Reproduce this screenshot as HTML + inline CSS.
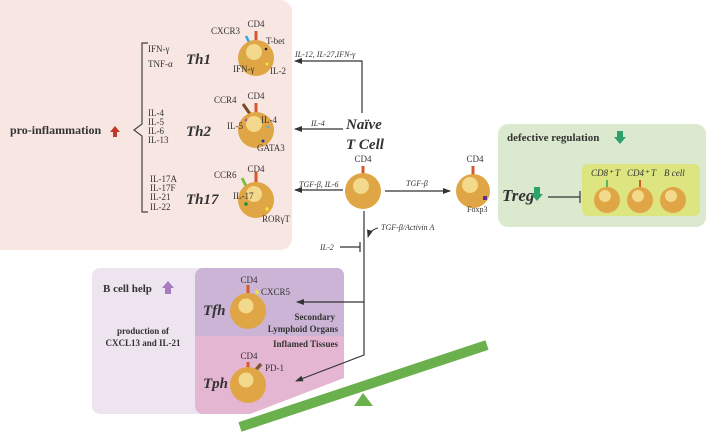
<!DOCTYPE html>
<html><head><meta charset="utf-8"><style>
html,body{margin:0;padding:0;background:#fff}
svg{display:block}
text{font-family:"Liberation Serif",serif;fill:#333}
.b{font-weight:bold}
.i{font-style:italic}
</style></head><body>
<svg width="708" height="432" viewBox="0 0 708 432" xmlns="http://www.w3.org/2000/svg">
<defs>
<marker id="ar" markerWidth="8" markerHeight="6" refX="7" refY="3" orient="auto" markerUnits="userSpaceOnUse"><path d="M0,0 L8,3 L0,6 z" fill="#333"/></marker>
</defs>
<!-- panels -->
<rect x="-10" y="0" width="302" height="250" rx="12" fill="#f7e6e2"/>
<rect x="498" y="124" width="208" height="103" rx="10" fill="#dbe9cf"/>
<rect x="582" y="164" width="118" height="52" rx="6" fill="#dde580"/>
<rect x="92" y="268" width="120" height="146" rx="8" fill="#ede4ef"/>
<path d="M203,268 H337 a7,7 0 0 1 7,7 V336 H195 V276 a8,8 0 0 1 8,-8z" fill="#cbb4d5"/>
<path d="M195,336 H344 V378 L250,414 H203 a8,8 0 0 1 -8,-8z" fill="#e4b6d2"/>
<!-- seesaw -->
<line x1="240" y1="427" x2="487" y2="345" stroke="#6ab04c" stroke-width="10"/>
<polygon points="363,393 354,406 373,406" fill="#6ab04c"/>

<!-- left text -->
<text x="10" y="134" class="b" font-size="12">pro-inflammation</text>
<polygon points="115,126 110,132 113,132 113,137 117,137 117,132 120,132" fill="#c0392b"/>
<path d="M148,43 H142 V124 L134,130 L142,136 V212 H148" fill="none" stroke="#444" stroke-width="1.2"/>
<text x="148" y="52" font-size="9">IFN-γ</text>
<text x="148" y="67" font-size="9">TNF-α</text>
<text x="148" y="116" font-size="9">IL-4</text>
<text x="148" y="125" font-size="9">IL-5</text>
<text x="148" y="134" font-size="9">IL-6</text>
<text x="148" y="143" font-size="9">IL-13</text>
<text x="150" y="182" font-size="9">IL-17A</text>
<text x="150" y="191" font-size="9">IL-17F</text>
<text x="150" y="200" font-size="9">IL-21</text>
<text x="150" y="210" font-size="9">IL-22</text>
<text x="186" y="64" class="b i" font-size="15">Th1</text>
<text x="186" y="136" class="b i" font-size="15">Th2</text>
<text x="186" y="204" class="b i" font-size="15">Th17</text>

<!-- Th1 -->
<line x1="256" y1="31" x2="256" y2="40" stroke="#d35a2a" stroke-width="3"/>
<line x1="246" y1="36" x2="249" y2="42" stroke="#2ea8e0" stroke-width="2.5"/>
<circle cx="256" cy="58" r="18" fill="#e0a545"/><circle cx="254" cy="52" r="8" fill="#f3d98b"/>
<circle cx="266" cy="49" r="1.3" fill="#222"/><circle cx="267" cy="64" r="1.5" fill="#f4e430"/><circle cx="243" cy="58" r="1.3" fill="#9bcf3a"/>
<text x="256" y="27" font-size="9" text-anchor="middle">CD4</text>
<text x="211" y="34" font-size="9">CXCR3</text>
<text x="266" y="44" font-size="9">T-bet</text>
<text x="233" y="72" font-size="9">IFN-γ</text>
<text x="270" y="74" font-size="9">IL-2</text>
<!-- Th2 -->
<line x1="256" y1="103" x2="256" y2="113" stroke="#d35a2a" stroke-width="3"/>
<line x1="243" y1="104" x2="250" y2="114" stroke="#7a4a23" stroke-width="3"/>
<circle cx="256" cy="130" r="18" fill="#e0a545"/><circle cx="254" cy="124" r="8" fill="#f3d98b"/>
<circle cx="246" cy="120" r="1.3" fill="#b04dc0"/><circle cx="268" cy="127" r="1.3" fill="#5ab0e0"/><circle cx="263" cy="141" r="1.5" fill="#223c8c"/>
<text x="256" y="99" font-size="9" text-anchor="middle">CD4</text>
<text x="214" y="103" font-size="9">CCR4</text>
<text x="227" y="129" font-size="9">IL-5</text>
<text x="261" y="123" font-size="9">IL-4</text>
<text x="257" y="151" font-size="9">GATA3</text>
<!-- Th17 -->
<line x1="256" y1="172" x2="256" y2="183" stroke="#d35a2a" stroke-width="3"/>
<line x1="242" y1="178" x2="246" y2="186" stroke="#7bc043" stroke-width="3"/>
<circle cx="256" cy="200" r="18" fill="#e0a545"/><circle cx="254" cy="194" r="8" fill="#f3d98b"/>
<circle cx="246" cy="204" r="1.7" fill="#1e8a3c"/><circle cx="267" cy="209" r="1.7" fill="#f4e430"/>
<text x="256" y="172" font-size="9" text-anchor="middle">CD4</text>
<text x="214" y="178" font-size="9">CCR6</text>
<text x="233" y="199" font-size="9">IL-17</text>
<text x="262" y="222" font-size="9">RORγT</text>

<!-- arrows to Th -->
<path d="M362,113 V61 H295" fill="none" stroke="#333" stroke-width="1.2" marker-end="url(#ar)"/>
<text x="295" y="57" class="i" font-size="8">IL-12, IL-27,IFN-γ</text>
<line x1="343" y1="129" x2="295" y2="129" stroke="#333" stroke-width="1.2" marker-end="url(#ar)"/>
<text x="311" y="126" class="i" font-size="8">IL-4</text>
<line x1="343" y1="190" x2="295" y2="190" stroke="#333" stroke-width="1.2" marker-end="url(#ar)"/>
<text x="299" y="187" class="i" font-size="8">TGF-β, IL-6</text>

<!-- naive -->
<text x="346" y="129" class="b i" font-size="15">Naïve</text>
<text x="346" y="149" class="b i" font-size="15">T Cell</text>
<line x1="363" y1="166" x2="363" y2="176" stroke="#d35a2a" stroke-width="3"/>
<circle cx="363" cy="191" r="18" fill="#e0a545"/><circle cx="361" cy="186" r="8" fill="#f3d98b"/>
<text x="363" y="162" font-size="9" text-anchor="middle">CD4</text>
<line x1="385" y1="191" x2="450" y2="191" stroke="#333" stroke-width="1.2" marker-end="url(#ar)"/>
<text x="406" y="186" class="i" font-size="8">TGF-β</text>

<!-- Treg cell -->
<line x1="473" y1="166" x2="473" y2="176" stroke="#d35a2a" stroke-width="3"/>
<circle cx="473" cy="191" r="17" fill="#e0a545"/><circle cx="470" cy="185" r="8" fill="#f3d98b"/>
<rect x="483" y="196" width="4" height="4" fill="#6a2a8a"/>
<text x="475" y="162" font-size="9" text-anchor="middle">CD4</text>
<text x="467" y="212" font-size="8">Foxp3</text>

<!-- green panel -->
<text x="507" y="141" class="b" font-size="11">defective regulation</text>
<polygon points="620,144 614,137 617,137 617,131 623,131 623,137 626,137" fill="#2ea06b"/>
<text x="502" y="201" class="b i" font-size="17">Treg</text>
<polygon points="537,201 531,194 534,194 534,187 540,187 540,194 543,194" fill="#2ea06b"/>
<line x1="548" y1="197" x2="580" y2="197" stroke="#333" stroke-width="1.2"/>
<line x1="580" y1="191" x2="580" y2="203" stroke="#333" stroke-width="1.2"/>
<text x="591" y="176" class="i" font-size="9">CD8⁺ T</text>
<text x="627" y="176" class="i" font-size="9">CD4⁺ T</text>
<text x="664" y="176" class="i" font-size="9">B cell</text>
<line x1="607" y1="180" x2="607" y2="187" stroke="#5ab55a" stroke-width="2"/>
<line x1="640" y1="180" x2="640" y2="187" stroke="#d35a2a" stroke-width="2"/>
<circle cx="607" cy="200" r="13" fill="#e0a545"/><circle cx="605" cy="196" r="6" fill="#f3d98b"/>
<circle cx="640" cy="200" r="13" fill="#e0a545"/><circle cx="638" cy="196" r="6" fill="#f3d98b"/>
<circle cx="673" cy="200" r="13" fill="#e0a545"/><circle cx="671" cy="196" r="6" fill="#f3d98b"/>

<!-- down line -->
<path d="M364,211 V355 L296,381" fill="none" stroke="#333" stroke-width="1.2" marker-end="url(#ar)"/>
<line x1="364" y1="302" x2="297" y2="302" stroke="#333" stroke-width="1.2" marker-end="url(#ar)"/>
<line x1="340" y1="247" x2="360" y2="247" stroke="#333" stroke-width="1.2"/>
<line x1="360" y1="242" x2="360" y2="252" stroke="#333" stroke-width="1.2"/>
<text x="320" y="250" class="i" font-size="8">IL-2</text>
<path d="M378,228 Q370,230 368,237" fill="none" stroke="#333" stroke-width="1" marker-end="url(#ar)"/>
<text x="381" y="230" class="i" font-size="8">TGF-β/Activin A</text>

<!-- lower panel -->
<text x="103" y="292" class="b" font-size="11">B cell help</text>
<polygon points="168,281 162,288 165,288 165,294 171,294 171,288 174,288" fill="#a77bc0"/>
<text x="143" y="334" class="b" font-size="9" text-anchor="middle">production of</text>
<text x="143" y="346" class="b" font-size="9" text-anchor="middle">CXCL13 and IL-21</text>
<text x="203" y="315" class="b i" font-size="15">Tfh</text>
<line x1="248" y1="285" x2="248" y2="294" stroke="#d35a2a" stroke-width="3"/>
<line x1="256" y1="290" x2="258" y2="294" stroke="#e6e642" stroke-width="3"/>
<circle cx="248" cy="311" r="18" fill="#e0a545"/><circle cx="246" cy="306" r="7.5" fill="#f3d98b"/>
<text x="249" y="283" font-size="9" text-anchor="middle">CD4</text>
<text x="261" y="295" font-size="9">CXCR5</text>
<text x="335" y="320" font-size="9" text-anchor="end" class="b">Secondary</text>
<text x="338" y="332" font-size="9" text-anchor="end" class="b">Lymphoid Organs</text>
<text x="338" y="347" font-size="9" text-anchor="end" class="b">Inflamed Tissues</text>
<text x="203" y="388" class="b i" font-size="15">Tph</text>
<line x1="248" y1="362" x2="248" y2="371" stroke="#d35a2a" stroke-width="3"/>
<line x1="254" y1="372" x2="261" y2="364" stroke="#7a5a30" stroke-width="3.5"/>
<circle cx="248" cy="385" r="18" fill="#e0a545"/><circle cx="246" cy="380" r="7.5" fill="#f3d98b"/>
<text x="249" y="359" font-size="9" text-anchor="middle">CD4</text>
<text x="265" y="371" font-size="9">PD-1</text>
</svg>
</body></html>
